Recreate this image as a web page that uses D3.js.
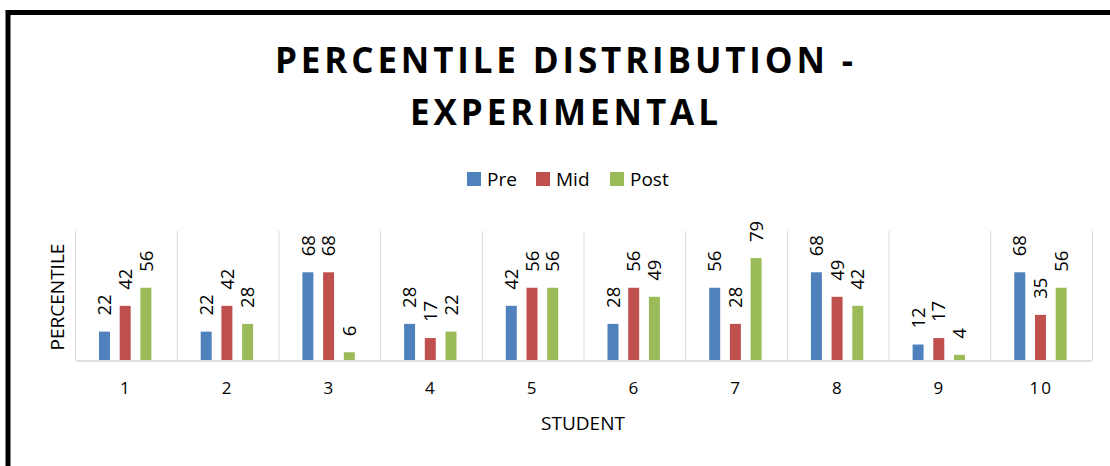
<!DOCTYPE html>
<html>
<head>
<meta charset="utf-8">
<script src="https://cdn.jsdelivr.net/npm/d3@7/dist/d3.min.js"></script>
<style>
html,body{margin:0;padding:0;background:#fff;}
svg{display:block;}
text{font-family:"Open Sans",sans-serif;fill:#000;}
</style>
</head>
<body>
<svg id="chart" width="1110" height="466"></svg>
<script>
const students = ["1","2","3","4","5","6","7","8","9","10"];
const seriesNames = ["Pre","Mid","Post"];
const preValues  = [22,22,68,28,42,28,56,68,12,68];
const midValues  = [42,42,68,17,56,56,28,49,17,35];
const postValues = [56,28,6,22,56,49,79,42,4,56];
const colors = ["#4f81bd","#c0504d","#9bbb59"];
const titleLines = ["PERCENTILE DISTRIBUTION -","EXPERIMENTAL"];
const xTitle = "STUDENT";
const yTitle = "PERCENTILE";

const seriesValues = [preValues, midValues, postValues];
const svg = d3.select("#chart");

// frame
svg.append("rect").attr("x",8).attr("y",12.5).attr("width",1300).attr("height",1000)
  .attr("fill","none").attr("stroke","#000").attr("stroke-width",5);

const pLeft = 75, pRight = 1092, pTop = 231, pBottom = 360;
const x0 = d3.scaleBand().domain(students).range([pLeft,pRight]).padding(0);
const x1 = d3.scaleBand().domain(seriesNames)
  .range([x0.bandwidth()*0.236, x0.bandwidth()*0.751]).paddingInner(0.47).paddingOuter(0);
const y = d3.scaleLinear().domain([0,100]).range([pBottom,pTop]);

// vertical gridlines at category boundaries
const bounds = students.map(s => x0(s)).concat([pRight]);
svg.append("g").selectAll("line").data(bounds).join("line")
  .attr("x1",d=>d+0.5).attr("x2",d=>d+0.5).attr("y1",pTop).attr("y2",pBottom)
  .attr("stroke","#d9d9d9").attr("stroke-width",1);

// x axis
const xAxis = svg.append("g").attr("transform",`translate(0,${pBottom+0.5})`)
  .call(d3.axisBottom(x0).tickSize(0).tickPadding(21));
xAxis.select(".domain").attr("stroke","#d9d9d9").attr("stroke-width",1.5);
xAxis.selectAll("text").style("font-family","Open Sans").style("font-size","17px")
  .attr("fill","#000").style("letter-spacing","2px");

// bars
const groups = svg.append("g").selectAll("g").data(students).join("g")
  .attr("transform",d=>`translate(${x0(d)},0)`);
seriesNames.forEach((name,si)=>{
  groups.append("rect")
    .attr("x",x1(name))
    .attr("width",x1.bandwidth())
    .attr("y",(d,i)=>y(seriesValues[si][i]))
    .attr("height",(d,i)=>pBottom - y(seriesValues[si][i]))
    .attr("fill",colors[si]);
  groups.append("text")
    .attr("transform",(d,i)=>`translate(${x1(name)+x1.bandwidth()/2},${y(seriesValues[si][i])-16}) rotate(-90)`)
    .attr("dy","0.36em")
    .attr("text-anchor","start")
    .style("font-size","18.5px")
    .text((d,i)=>seriesValues[si][i]);
});

// title
const titleY = [73, 125];
titleLines.forEach((t,i)=>{
  svg.append("text").attr("x",564).attr("y",titleY[i])
    .attr("text-anchor","middle").style("font-size","35px").style("font-weight","bold")
    .attr("textLength", i===0 ? 578 : 308).attr("lengthAdjust","spacing")
    .text(t);
});

// legend
const legendX = [467, 536, 610];
seriesNames.forEach((name,i)=>{
  svg.append("rect").attr("x",legendX[i]).attr("y",172).attr("width",14).attr("height",14).attr("fill",colors[i]);
  svg.append("text").attr("x",legendX[i]+20).attr("y",186).style("font-size","19px").text(name);
});

// axis titles
svg.append("text").attr("x",583).attr("y",430).attr("text-anchor","middle")
  .style("font-size","19px").text(xTitle);
svg.append("text").attr("transform","translate(64,297) rotate(-90)").attr("text-anchor","middle")
  .style("font-size","19px").text(yTitle);
</script>
</body>
</html>
